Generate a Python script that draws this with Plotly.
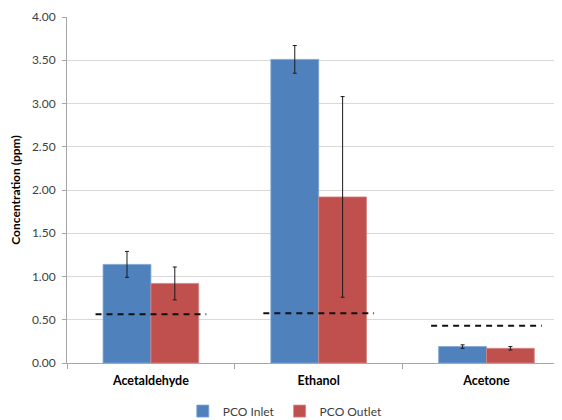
import plotly.graph_objects as go

categories = ["Acetaldehyde", "Ethanol", "Acetone"]
inlet = [1.14, 3.51, 0.19]
inlet_err = [0.15, 0.16, 0.02]
outlet = [0.92, 1.92, 0.17]
outlet_err = [0.19, 1.16, 0.02]
threshold = [0.565, 0.575, 0.43]
yticks = [0, 0.5, 1.0, 1.5, 2.0, 2.5, 3.0, 3.5, 4.0]

fig = go.Figure()
fig.add_trace(go.Bar(
    x=categories, y=inlet, name="PCO Inlet",
    marker=dict(color="#4F81BD", line=dict(color="#7EA3D3", width=0.8)),
    error_y=dict(type="data", array=inlet_err, color="#1a1a1a", thickness=1, width=2),
))
fig.add_trace(go.Bar(
    x=categories, y=outlet, name="PCO Outlet",
    marker=dict(color="#C0504D", line=dict(color="#D68683", width=0.8)),
    error_y=dict(type="data", array=outlet_err, color="#1a1a1a", thickness=1, width=2),
))

half = 0.33
for i, t in enumerate(threshold):
    fig.add_trace(go.Scatter(
        x=[i - half, i + half], y=[t, t], mode="lines", xaxis="x2",
        line=dict(color="#111111", width=2, dash="6px,5px"),
        showlegend=False, hoverinfo="skip",
    ))

rng = [-0.5, 2.45]
fig.update_layout(
    width=562, height=420,
    margin=dict(l=59, r=8, t=9, b=65, autoexpand=False),
    paper_bgcolor="white", plot_bgcolor="white",
    font=dict(family="Lato, 'Open Sans', sans-serif", size=12, color="#404040"),
    barmode="group", bargap=0.43, bargroupgap=0,
    xaxis=dict(
        range=rng, showline=True, linecolor="#a6a6a6", linewidth=1,
        ticks="outside", tickson="boundaries", ticklen=5, tickcolor="#a6a6a6",
        ticklabelstandoff=6,
        tickfont=dict(size=12.5, color="#000000", family="Lato, sans-serif", weight="bold"),
        showgrid=False, automargin=False,
    ),
    xaxis2=dict(range=rng, overlaying="x", visible=False),
    yaxis=dict(
        range=[0, 4.0], tickvals=yticks, tickformat=".2f",
        showline=True, linecolor="#a6a6a6", linewidth=1,
        ticks="outside", ticklen=4, tickcolor="#a6a6a6", ticklabelstandoff=4,
        gridcolor="#d9d9d9", gridwidth=1, zeroline=False,
        tickfont=dict(size=12, color="#404040"), automargin=False,
        title=dict(text="Concentration (ppm)", standoff=12,
                   font=dict(size=12, color="#000000", weight="bold")),
    ),
    legend=dict(
        orientation="h", itemwidth=30,
        x=0.441, xanchor="center", y=-0.139, yanchor="middle",
        font=dict(size=12, color="#404040"), traceorder="normal",
    ),
)

fig.write_html("out.html")
